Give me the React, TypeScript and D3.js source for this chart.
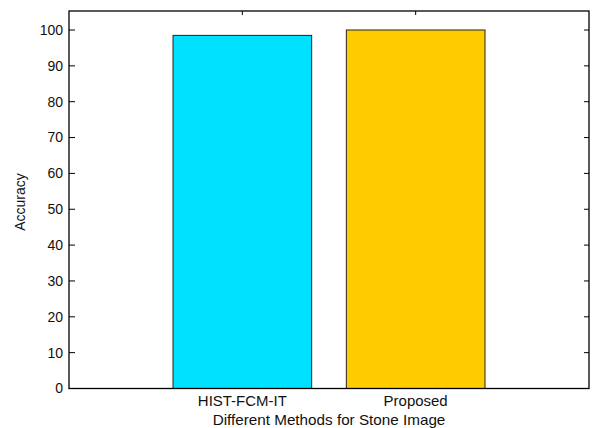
import React from "react";
import * as d3 from "d3";

const categories = ["HIST-FCM-IT", "Proposed"];
const accuracyValues = [98.5, 100];
const barColors = ["#00e0ff", "#ffcc00"];
const yTicks = [0, 10, 20, 30, 40, 50, 60, 70, 80, 90, 100];
const yLabel = "Accuracy";
const xLabel = "Different Methods for Stone Image";

export default function App() {
  const W = 592, H = 428;
  const left = 69, right = 589, top = 11, bottom = 388.5;
  const x = d3.scaleLinear().domain([0, categories.length + 1]).range([left, right]);
  const y = d3.scaleLinear().domain([0, 105.3]).range([bottom, top]);
  const bw = (x(1) - x(0)) * 0.8;
  const font = "'Liberation Sans', Arial, sans-serif";
  return (
    <svg width={W} height={H} style={{ position: "absolute", left: 0, top: 0, background: "#fff" }}>
      <rect x={0} y={0} width={W} height={H} fill="#fff" />
      {categories.map((c, i) => (
        <rect key={c} x={x(i + 1) - bw / 2} y={y(accuracyValues[i])} width={bw}
          height={y(0) - y(accuracyValues[i])} fill={barColors[i]} stroke="#222" strokeWidth={1} />
      ))}
      {/* frame */}
      <rect x={left} y={top} width={right - left} height={bottom - top} fill="none" stroke="#000" strokeWidth={1.3} />
      {yTicks.map((t) => (
        <g key={t}>
          <line x1={left} x2={left + 6} y1={y(t)} y2={y(t)} stroke="#000" strokeWidth={1} />
          <line x1={right} x2={right - 5} y1={y(t)} y2={y(t)} stroke="#000" strokeWidth={1} />
          <text x={left - 6} y={y(t)} dy="0.35em" textAnchor="end" fontFamily={font} fontSize={14} fill="#111">{t}</text>
        </g>
      ))}
      {categories.map((c, i) => (
        <g key={"t" + c}>
          <line x1={x(i + 1)} x2={x(i + 1)} y1={top} y2={top + 4} stroke="#000" strokeWidth={1} />
          <text x={x(i + 1)} y={406} textAnchor="middle" fontFamily={font} fontSize={14} fill="#111"
            transform={`translate(${x(i + 1)},0) scale(1.07,1) translate(${-x(i + 1)},0)`}>{c}</text>
        </g>
      ))}
      <text x={329} y={425.5} textAnchor="middle" fontFamily={font} fontSize={14} fill="#111"
        transform={`translate(329,0) scale(1.09,1) translate(-329,0)`}>{xLabel}</text>
      <text transform={`translate(25,202) rotate(-90)`} textAnchor="middle" fontFamily={font} fontSize={14} fill="#111">{yLabel}</text>
    </svg>
  );
}
